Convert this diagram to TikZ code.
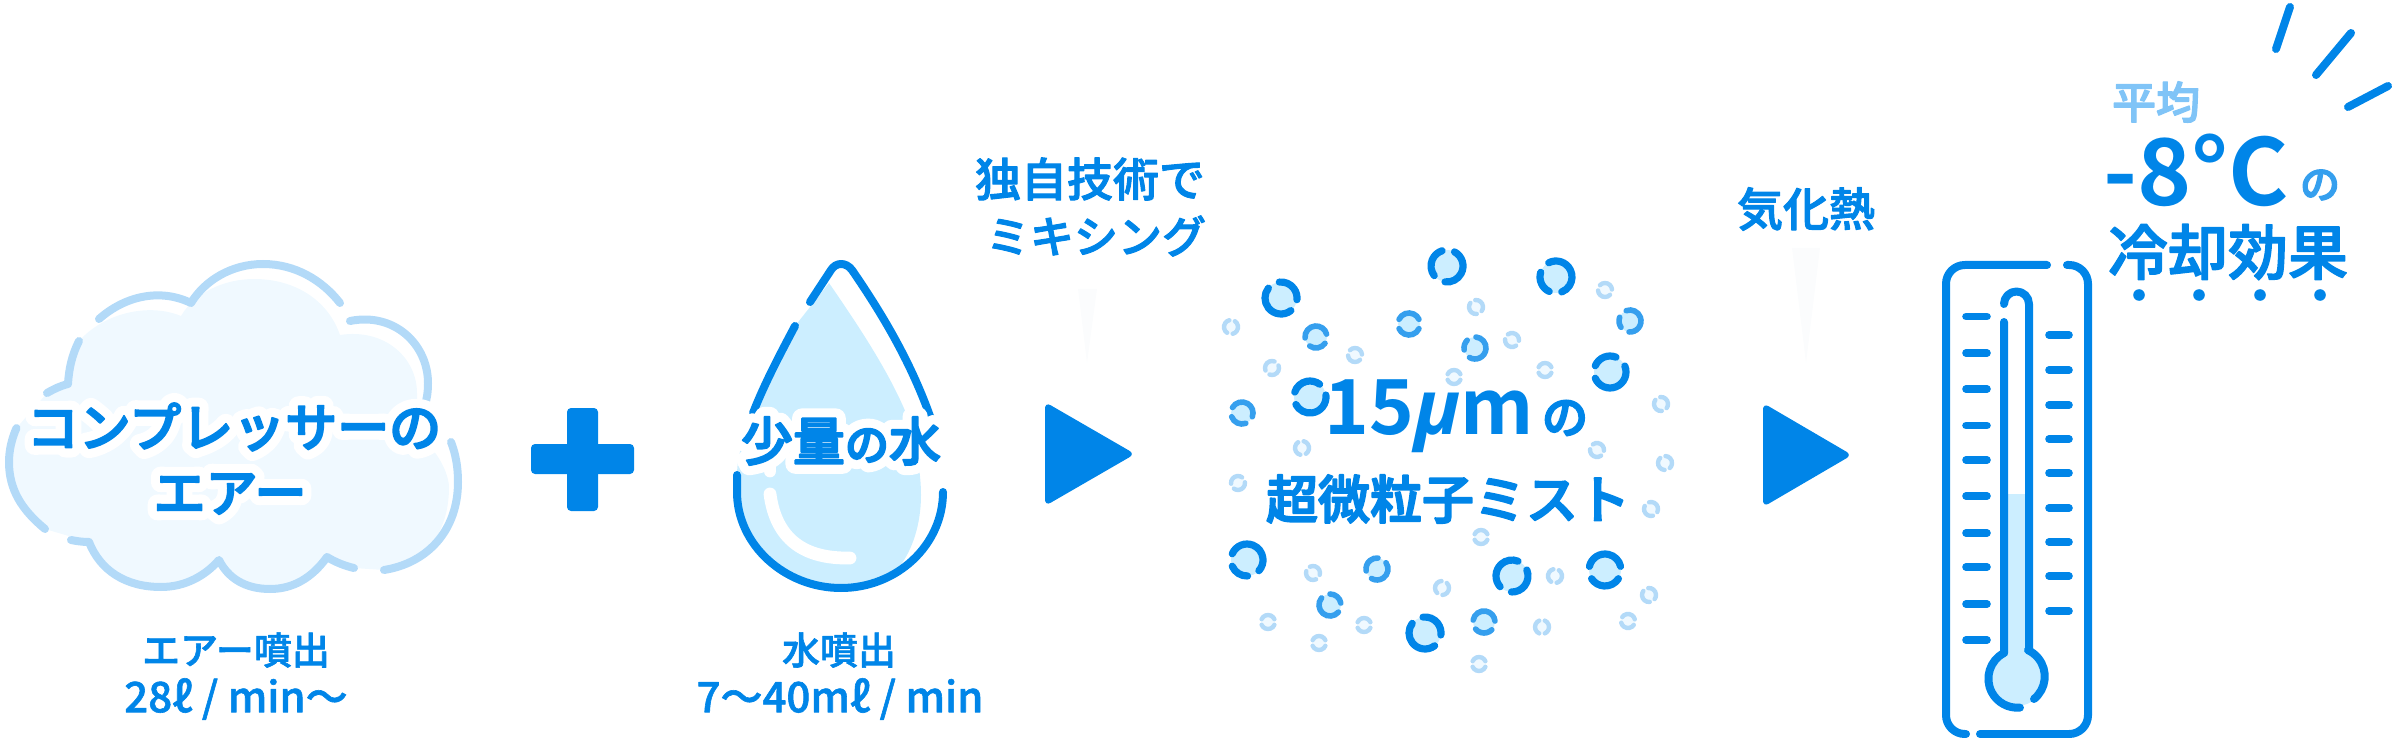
\documentclass[tikz,border=0pt]{standalone}
\usepackage{fontspec}
\setmainfont{Noto Sans CJK JP}[UprightFont=* Medium, BoldFont=* Bold]
\newfontfamily\mufont{Open Sans}
\definecolor{mistblue}{HTML}{0085E8}
\definecolor{midblue}{HTML}{359FEE}
\definecolor{softblue}{HTML}{80C4F7}
\definecolor{paleblue}{HTML}{B3DAF8}
\definecolor{dropblue}{HTML}{CCEEFF}
\definecolor{airblue}{HTML}{F0F9FF}
\definecolor{wedgegrey}{HTML}{FBFCFD}
\newcommand{\sized}[1]{\fontsize{#1}{#1}\selectfont}
% letters with a stroke, round at the ends
\newcommand{\roundtext}[2]{\special{pdf:code 2 Tr #1 w 1 J 1 j}#2\special{pdf:code 0 Tr}}
% white outline below the letters
\newcommand{\halotext}[1]{\leavevmode\rlap{\color{white}\special{pdf:code 2 Tr 5 w 1 J 1 j 1 1 1 RG}#1\special{pdf:code 0 Tr}}\roundtext{.45}{#1}}
\newcommand{\bubble}[6]{%
	\fill[#1, draw=none] (#3,#4) circle[radius=#2];
	\draw[#1, fill=none] (#3,#4) ++(#5+\gapw:#2) arc[start angle=#5+\gapw, end angle=#6-\gapw, radius=#2];
	\draw[#1, fill=none] (#3,#4) ++(#6+\gapw:#2) arc[start angle=#6+\gapw, end angle=#5+360-\gapw, radius=#2];
}
\tikzset{
	cloudline/.style={draw=paleblue, line width=2pt, line cap=round, line join=round},
	markline/.style={draw=mistblue, line width=2pt, line cap=round, line join=round},
	tickline/.style={draw=mistblue, line width=1.9pt, line cap=round},
	headtext/.style={text=mistblue, inner sep=0pt, font=\sized{13}},
	sidetext/.style={text=mistblue, inner sep=0pt, font=\sized{11.5}},
	smalltext/.style={text=mistblue, inner sep=0pt, font=\sized{9.5}},
	ratetext/.style={text=mistblue, inner sep=0pt, font=\sized{10.5}},
	bigdrop/.style={color=mistblue, fill=dropblue, line width=1.8pt, line cap=round},
	middrop/.style={color=midblue, fill=dropblue, line width=1.4pt, line cap=round},
	tinydrop/.style={color=paleblue, fill=airblue, line width=1.1pt, line cap=round},
	arrowhead/.style={fill=mistblue, rounded corners=1.6pt}
}
\begin{document}
\begin{tikzpicture}[x=.25pt, y=.25pt, yscale=-1]
	\useasboundingbox (0,0) rectangle (2400,738);

	% cloud
	\fill[airblue] (181,316) .. controls (195,292) and (225,279) .. (254,279) .. controls (295,279) and (328,300) .. (340,335) .. controls (385,328) and (417,358) .. (417,393) .. controls (417,415) and (425,435) .. (433,450) .. controls (445,465) and (449,480) .. (449,487) .. controls (449,530) and (428,563) .. (384,570) -- (354,568) .. controls (345,566) and (335,562) .. (327,557) .. controls (312,578) and (293,589) .. (270,589) .. controls (245,589) and (228,578) .. (219,560) .. controls (205,576) and (185,587) .. (161,587) .. controls (125,587) and (100,570) .. (89,542) -- (45,529) .. controls (22,510) and (9,490) .. (9,462) .. controls (9,450) and (12,438) .. (16.5,428) -- (47,393) -- (68,384) .. controls (69,368) and (72,355) .. (79,341) .. controls (105,312) and (150,303) .. (181,316) -- cycle;
	\draw[cloudline] (99,319) .. controls (125,296) and (160,288) .. (191,303) .. controls (205,280) and (232,264) .. (263,264) .. controls (295,264) and (322,280) .. (340,303);
	\draw[cloudline] (350,321) .. controls (395,312) and (428,345) .. (428,383) .. controls (428,392) and (427,398) .. (425,405);
	\draw[cloudline] (451,442) .. controls (456,455) and (458,468) .. (458,482) .. controls (458,530) and (428,563) .. (384,570);
	\draw[cloudline] (354,568) .. controls (345,566) and (335,562) .. (327,557) .. controls (312,578) and (293,589) .. (270,589) .. controls (245,589) and (228,578) .. (219,560) .. controls (205,576) and (185,587) .. (161,587) .. controls (125,587) and (100,570) .. (89,542) .. controls (82,542) and (76,541) .. (71,540);
	\draw[cloudline] (45,529) .. controls (22,510) and (9,490) .. (9,462) .. controls (9,450) and (12,438) .. (16.5,428);
	\draw[cloudline] (47,393) .. controls (54,389) and (60,386) .. (68,384) .. controls (69,368) and (72,355) .. (79,341);
	\node[headtext] (airname) at (234,427) {\halotext{コンプレッサーの}};
	\node[headtext] (airword) at (230,494) {\halotext{エアー}};
	\node[smalltext] (airjet) at (236,650) {\roundtext{.15}{エアー噴出}};
	\node[ratetext] (airrate) at (236,699) {\roundtext{.15}{28ℓ\ /\ min〜}};

	% plus
	\fill[mistblue, rounded corners=1pt] (531,444) rectangle (634,474);
	\fill[mistblue, rounded corners=1pt] (567,408) rectangle (598,511);

	% water drop
	\fill[dropblue] (829,283) .. controls (865,335) and (890,375) .. (906,413) .. controls (915,440) and (921,470) .. (921,495) .. controls (921,525) and (912,550) .. (900,566) .. controls (880,580) and (860,588) .. (841,588) .. controls (785,588) and (737,545) .. (737,492) -- (737,475) .. controls (737,455) and (745,433) .. (753,413) -- (795,326) -- cycle;
	\draw[draw=white, line width=3.2pt, line cap=round] (770,494) .. controls (776,540) and (805,559) .. (850,558);
	\draw[draw=white, line width=3.2pt, line cap=round] (770,468) -- (770,471);
	\draw[markline] (810,302) -- (831,270) .. controls (836,262) and (846,262) .. (852,270) .. controls (885,318) and (912,365) .. (931,419);
	\draw[markline] (795,326) .. controls (778,358) and (764,385) .. (753,413);
	\draw[markline] (737,475) -- (737,492) .. controls (737,545) and (785,588) .. (841,588) .. controls (897,588) and (943,545) .. (943,492);
	\node[headtext] (watername) at (841,441) {\halotext{少量{\sized{11}の}水}};
	\node[smalltext] (waterjet) at (839,650) {\roundtext{.15}{水噴出}};
	\node[ratetext] (waterrate) at (840,699) {\roundtext{.15}{7〜40mℓ\ /\ min}};

	% first step
	\fill[wedgegrey] (1078,289) -- (1097,289) -- (1087,363) -- cycle;
	\node[sidetext] (mixtop) at (1090,179) {\roundtext{.25}{独自技術で}};
	\node[sidetext, font=\sized{11}] (mixlow) at (1096,236) {\roundtext{.25}{ミキシング}};
	\fill[arrowhead] (1045,402) -- (1135,454) -- (1045,506) -- cycle;

	% mist
	\def\gapw{23}
	\foreach \dx/\dy/\ga/\gb in {1281/298/29/241, 1447/266/120/275, 1556/277/92/220, 1610/372/180/315, 1310/397/175/330, 1247/560/65/180, 1512/576/115/315, 1605/570/10/170, 1425/633/30/240}
		{\bubble{bigdrop}{16}{\dx}{\dy}{\ga}{\gb}}
	\def\gapw{25}
	\foreach \dx/\dy/\ga/\gb in {1316/337/10/150, 1409/324/0/180, 1475/348/145/250, 1630/321/120/225, 1242/413/45/185, 1377/569/145/300, 1330/605/15/245, 1484/622/20/165}
		{\bubble{middrop}{11}{\dx}{\dy}{\ga}{\gb}}
	\def\gapw{24}
	\foreach \dx/\dy/\ga/\gb in {1231/327/100/280, 1272/368/135/315, 1355/355/20/200, 1476/307/60/240, 1512/340/30/210, 1545/370/0/180, 1605/290/20/200, 1454/377/0/180, 1661/404/60/240, 1597/450/30/210, 1665/463/70/250, 1302/448/80/260, 1238/483/150/330, 1651/509/50/230, 1481/537/0/180, 1555/576/100/280, 1649/595/60/240, 1313/573/40/220, 1442/588/110/290, 1628/621/10/190, 1268/622/0/180, 1364/625/0/180, 1542/627/90/270, 1319/643/0/180, 1479/664/0/180}
		{\bubble{tinydrop}{7}{\dx}{\dy}{\ga}{\gb}}
	\node[text=mistblue, inner sep=0pt, font=\sized{19}\bfseries] (mistsize) at (1429,416) {15{\mufont\itshape μ}m};
	\node[headtext, font=\sized{11.5}] (mistof) at (1565,418) {\roundtext{.45}{の}};
	\node[headtext] (mistname) at (1448,499) {\roundtext{.45}{超微粒子ミスト}};

	% second step
	\fill[wedgegrey] (1792,248) -- (1820,248) -- (1806,363) -- cycle;
	\node[sidetext] (heatname) at (1806,209) {\roundtext{.25}{気化熱}};
	\fill[arrowhead] (1763,403) -- (1852,455) -- (1763,507) -- cycle;

	% thermometer
	\draw[markline, rounded corners=4.7pt] (2047,265) -- (1946,265) -- (1946,734) -- (1966,734);
	\draw[markline, rounded corners=4.7pt] (2067,265) -- (2088,265) -- (2088,734) -- (1980,734);
	\fill[dropblue] (2004,494) rectangle (2029,660);
	\fill[dropblue] (2016.5,677) circle[radius=29];
	\draw[markline] (2004,304) arc[start angle=180, end angle=360, radius=12.5] -- (2029,650);
	\draw[markline] (2004,322) -- (2004,653) arc[start angle=242.5, end angle=85, radius=29];
	\draw[markline] (2034,699) arc[start angle=51, end angle=-65, radius=29];
	\foreach \ty in {316.5,353,389,425.5,460,496,533,567,604,640}
		\draw[tickline] (1966,\ty) -- (1987,\ty);
	\foreach \ty in {335,370,405,439,473,508,542,576,611}
		\draw[tickline] (2049,\ty) -- (2069,\ty);

	% effect
	\draw[markline] (2290,7) -- (2276,49);
	\draw[markline] (2351,33) -- (2316,75);
	\draw[markline] (2388,86) -- (2348,107);
	\node[sidetext, text=softblue, font=\sized{11}] (avgword) at (2156,102) {\roundtext{.3}{平均}};
	\node[text=mistblue, inner sep=0pt, font=\sized{23}\bfseries] (tempvalue) at (2196,170) {-8°C};
	\node[sidetext, text=midblue, font=\sized{10}] (tempof) at (2320,185) {\roundtext{.3}{の}};
	\node[headtext, font=\sized{15}] (coolname) at (2228,252) {\roundtext{.35}{冷却効果}};
	\foreach \px in {2139,2199,2260,2320}
		\fill[mistblue] (\px,295) circle[radius=5.8];
\end{tikzpicture}
\end{document}
